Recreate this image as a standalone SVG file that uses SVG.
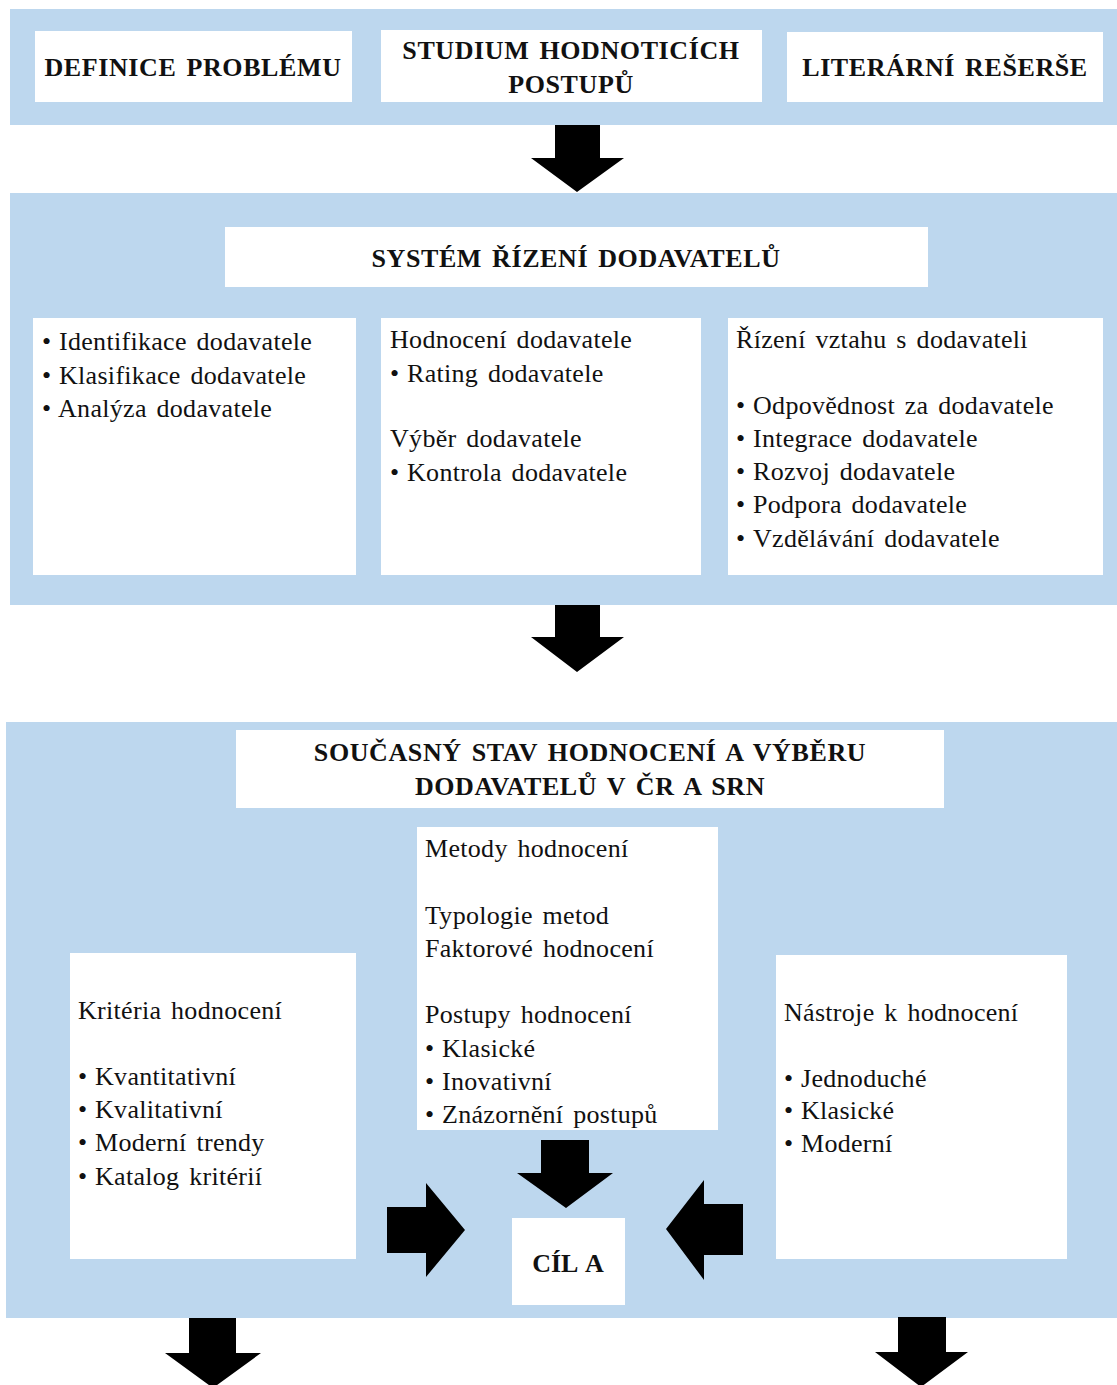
<svg xmlns="http://www.w3.org/2000/svg" width="1117" height="1385" viewBox="0 0 1117 1385">
  <style>
    .band { fill: #BDD7EE; }
    .box { fill: #FFFFFF; }
    .arrow { fill: #000000; }
    text { font-family: "Liberation Serif", "Times New Roman", serif; fill: #111111; }
    .hd { font-size: 26px; font-weight: bold; letter-spacing: 0.6px; word-spacing: 3px; }
    .tx { font-size: 26px; letter-spacing: 0.3px; word-spacing: 3px; }
    .mid { text-anchor: middle; }
  </style>

  <!-- background bands -->
  <rect x="0" y="0" width="1117" height="1385" fill="#FFFFFF"/>
  <rect class="band" x="10" y="9" width="1107" height="116"/>
  <rect class="band" x="10" y="193" width="1107" height="412"/>
  <rect class="band" x="6" y="722" width="1111" height="596"/>

  <!-- stage 1 -->
  <g id="definice-problemu">
    <rect class="box" x="35" y="31" width="317" height="71"/>
    <text class="hd mid" x="193" y="76">DEFINICE PROBLÉMU</text>
  </g>
  <g id="studium-postupu">
    <rect class="box" x="381" y="30" width="381" height="72"/>
    <text class="hd mid" x="571" y="59">STUDIUM HODNOTICÍCH</text>
    <text class="hd mid" x="571" y="93">POSTUPŮ</text>
  </g>
  <g id="literarni-reserse">
    <rect class="box" x="787" y="32" width="316" height="70"/>
    <text class="hd mid" x="945" y="76">LITERÁRNÍ REŠERŠE</text>
  </g>

  <!-- stage 2 -->
  <g id="system-rizeni">
    <rect class="box" x="225" y="227" width="703" height="60"/>
    <text class="hd mid" x="576" y="267">SYSTÉM ŘÍZENÍ DODAVATELŮ</text>
  </g>
  <g id="identifikace">
    <rect class="box" x="33" y="318" width="323" height="257"/>
    <text class="tx" x="42" y="350">•</text><text class="tx" x="59" y="350">Identifikace dodavatele</text>
    <text class="tx" x="42" y="384">•</text><text class="tx" x="59" y="384">Klasifikace dodavatele</text>
    <text class="tx" x="42" y="417">•</text><text class="tx" x="58" y="417">Analýza dodavatele</text>
  </g>
  <g id="hodnoceni-vyber">
    <rect class="box" x="381" y="318" width="320" height="257"/>
    <text class="tx" x="390" y="348">Hodnocení dodavatele</text>
    <text class="tx" x="390" y="382">•</text><text class="tx" x="407" y="382">Rating dodavatele</text>
    <text class="tx" x="390" y="447">Výběr dodavatele</text>
    <text class="tx" x="390" y="481">•</text><text class="tx" x="407" y="481">Kontrola dodavatele</text>
  </g>
  <g id="rizeni-vztahu">
    <rect class="box" x="728" y="318" width="375" height="257"/>
    <text class="tx" x="736" y="348">Řízení vztahu s dodavateli</text>
    <text class="tx" x="736" y="414">•</text><text class="tx" x="753" y="414">Odpovědnost za dodavatele</text>
    <text class="tx" x="736" y="447">•</text><text class="tx" x="753" y="447">Integrace dodavatele</text>
    <text class="tx" x="736" y="480">•</text><text class="tx" x="753" y="480">Rozvoj dodavatele</text>
    <text class="tx" x="736" y="513">•</text><text class="tx" x="753" y="513">Podpora dodavatele</text>
    <text class="tx" x="736" y="547">•</text><text class="tx" x="753" y="547">Vzdělávání dodavatele</text>
  </g>

  <!-- stage 3 -->
  <g id="soucasny-stav">
    <rect class="box" x="236" y="730" width="708" height="78"/>
    <text class="hd mid" x="590" y="761">SOUČASNÝ STAV HODNOCENÍ A VÝBĚRU</text>
    <text class="hd mid" x="590" y="795">DODAVATELŮ V ČR A SRN</text>
  </g>
  <g id="metody-hodnoceni">
    <rect class="box" x="417" y="827" width="301" height="303"/>
    <text class="tx" x="425" y="857">Metody hodnocení</text>
    <text class="tx" x="425" y="924">Typologie metod</text>
    <text class="tx" x="425" y="957">Faktorové hodnocení</text>
    <text class="tx" x="425" y="1023">Postupy hodnocení</text>
    <text class="tx" x="425" y="1057">•</text><text class="tx" x="442" y="1057">Klasické</text>
    <text class="tx" x="425" y="1090">•</text><text class="tx" x="442" y="1090">Inovativní</text>
    <text class="tx" x="425" y="1123">•</text><text class="tx" x="442" y="1123">Znázornění postupů</text>
  </g>
  <g id="kriteria-hodnoceni">
    <rect class="box" x="70" y="953" width="286" height="306"/>
    <text class="tx" x="78" y="1019">Kritéria hodnocení</text>
    <text class="tx" x="78" y="1085">•</text><text class="tx" x="95" y="1085">Kvantitativní</text>
    <text class="tx" x="78" y="1118">•</text><text class="tx" x="95" y="1118">Kvalitativní</text>
    <text class="tx" x="78" y="1151">•</text><text class="tx" x="95" y="1151">Moderní trendy</text>
    <text class="tx" x="78" y="1185">•</text><text class="tx" x="95" y="1185">Katalog kritérií</text>
  </g>
  <g id="nastroje-hodnoceni">
    <rect class="box" x="776" y="955" width="291" height="304"/>
    <text class="tx" x="784" y="1021">Nástroje k hodnocení</text>
    <text class="tx" x="784" y="1087">•</text><text class="tx" x="801" y="1087">Jednoduché</text>
    <text class="tx" x="784" y="1119">•</text><text class="tx" x="801" y="1119">Klasické</text>
    <text class="tx" x="784" y="1152">•</text><text class="tx" x="801" y="1152">Moderní</text>
  </g>
  <g id="cil-a">
    <rect class="box" x="512" y="1218" width="113" height="87"/>
    <text class="hd mid" x="568" y="1272" style="letter-spacing:0">CÍL A</text>
  </g>

  <!-- block arrows -->
  <g id="connectors">
    <polygon class="arrow" points="555,125 600,125 600,158 624,158 577,192 531,158 555,158"/>
    <polygon class="arrow" points="555,605 600,605 600,637 624,637 577,672 531,637 555,637"/>
    <polygon class="arrow" points="541,1140 589,1140 589,1173 613,1173 566,1208 517,1173 541,1173"/>
    <polygon class="arrow" points="387,1207 426,1207 426,1183 465,1230 426,1277 426,1253 387,1253"/>
    <polygon class="arrow" points="743,1204 704,1204 704,1180 666,1229 704,1280 704,1255 743,1255"/>
    <polygon class="arrow" points="189,1318 236,1318 236,1353 261,1353 213,1388 165,1353 189,1353"/>
    <polygon class="arrow" points="898,1317 946,1317 946,1352 968,1352 921,1387 875,1352 898,1352"/>
  </g>
</svg>
